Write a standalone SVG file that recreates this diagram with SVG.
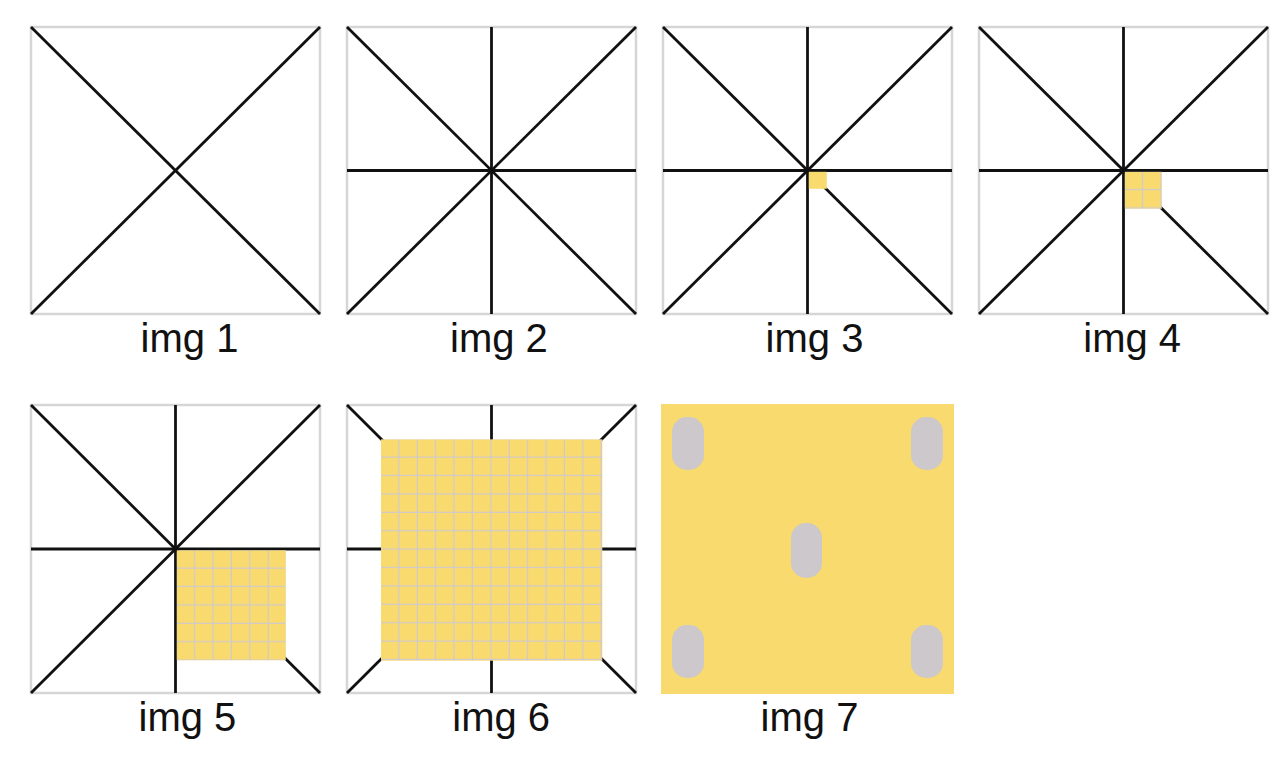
<svg xmlns="http://www.w3.org/2000/svg" width="1280" height="759" viewBox="0 0 1280 759">
<style>
.bg{fill:#ffffff}
.box{fill:#ffffff;stroke:#d6d6d6;stroke-width:2.5}
.ray{stroke:#111111;stroke-width:2.8;fill:none}
.lbl{font-family:"Liberation Sans",Arial,sans-serif;font-size:40px;fill:#111111}
.yel{fill:#f9da6e}
.pill{fill:#ccc8cb}
</style>
<defs>
<pattern id="grid" patternUnits="userSpaceOnUse" x="0" y="0" width="18.4" height="18.4">
<rect x="0" y="0" width="18.4" height="18.4" fill="#f9da6e"/>
<rect x="17.2" y="0" width="1.3" height="18.4" fill="#cfc9cd"/>
<rect x="0" y="17.2" width="18.4" height="1.3" fill="#cfc9cd"/>
</pattern>
</defs>
<rect class="bg" x="0" y="0" width="1280" height="759"/>

<g id="img1">
<rect class="box" x="31" y="27" width="289" height="287"/>
<line class="ray" x1="31" y1="27" x2="320" y2="314"/>
<line class="ray" x1="320" y1="27" x2="31" y2="314"/>
<text class="lbl" x="140.6" y="352">img 1</text>
</g>

<g id="img2">
<rect class="box" x="347" y="27" width="289" height="287"/>
<line class="ray" x1="347" y1="27" x2="636" y2="314"/>
<line class="ray" x1="636" y1="27" x2="347" y2="314"/>
<line class="ray" x1="347" y1="170.5" x2="636" y2="170.5"/>
<line class="ray" x1="491.5" y1="27" x2="491.5" y2="314"/>
<text class="lbl" x="450" y="352">img 2</text>
</g>

<g id="img3">
<rect class="box" x="663" y="27" width="289" height="287"/>
<line class="ray" x1="663" y1="27" x2="952" y2="314"/>
<line class="ray" x1="952" y1="27" x2="663" y2="314"/>
<line class="ray" x1="663" y1="170.5" x2="952" y2="170.5"/>
<line class="ray" x1="807.5" y1="27" x2="807.5" y2="314"/>
<g transform="translate(808.8,171.8)"><rect x="0" y="0" width="18" height="17" fill="#f9da6e"/></g>
<text class="lbl" x="765.6" y="352">img 3</text>
</g>

<g id="img4">
<rect class="box" x="979" y="27" width="289" height="287"/>
<line class="ray" x1="979" y1="27" x2="1268" y2="314"/>
<line class="ray" x1="1268" y1="27" x2="979" y2="314"/>
<line class="ray" x1="979" y1="170.5" x2="1268" y2="170.5"/>
<line class="ray" x1="1123.5" y1="27" x2="1123.5" y2="314"/>
<g transform="translate(1124.8,171.8)"><rect x="0" y="0" width="37" height="37" fill="url(#grid)"/></g>
<text class="lbl" x="1083.3" y="352">img 4</text>
</g>

<g id="img5">
<rect class="box" x="31" y="405" width="289" height="288"/>
<line class="ray" x1="31" y1="405" x2="320" y2="693"/>
<line class="ray" x1="320" y1="405" x2="31" y2="693"/>
<line class="ray" x1="31" y1="549" x2="320" y2="549"/>
<line class="ray" x1="175.5" y1="405" x2="175.5" y2="693"/>
<g transform="translate(176.8,550.3)"><rect x="0" y="0" width="109" height="110" fill="url(#grid)"/></g>
<text class="lbl" x="138.5" y="731">img 5</text>
</g>

<g id="img6">
<rect class="box" x="347" y="405" width="289" height="288"/>
<line class="ray" x1="347" y1="405" x2="636" y2="693"/>
<line class="ray" x1="636" y1="405" x2="347" y2="693"/>
<line class="ray" x1="347" y1="549" x2="636" y2="549"/>
<line class="ray" x1="491.5" y1="405" x2="491.5" y2="693"/>
<g transform="translate(381,439.3)"><rect x="0" y="0" width="221.3" height="221.4" fill="url(#grid)"/></g>
<text class="lbl" x="452.3" y="731">img 6</text>
</g>

<g id="img7">
<rect class="yel" x="661" y="404" width="293" height="290"/>
<rect class="pill" x="672" y="417" width="32" height="53" rx="15" ry="15"/>
<rect class="pill" x="911" y="417" width="32" height="53" rx="15" ry="15"/>
<rect class="pill" x="791" y="523" width="31" height="55" rx="15" ry="15"/>
<rect class="pill" x="672" y="625" width="32" height="53" rx="15" ry="15"/>
<rect class="pill" x="911" y="625" width="32" height="53" rx="15" ry="15"/>
<text class="lbl" x="760.6" y="731">img 7</text>
</g>

<g id="connectors"></g>
</svg>
